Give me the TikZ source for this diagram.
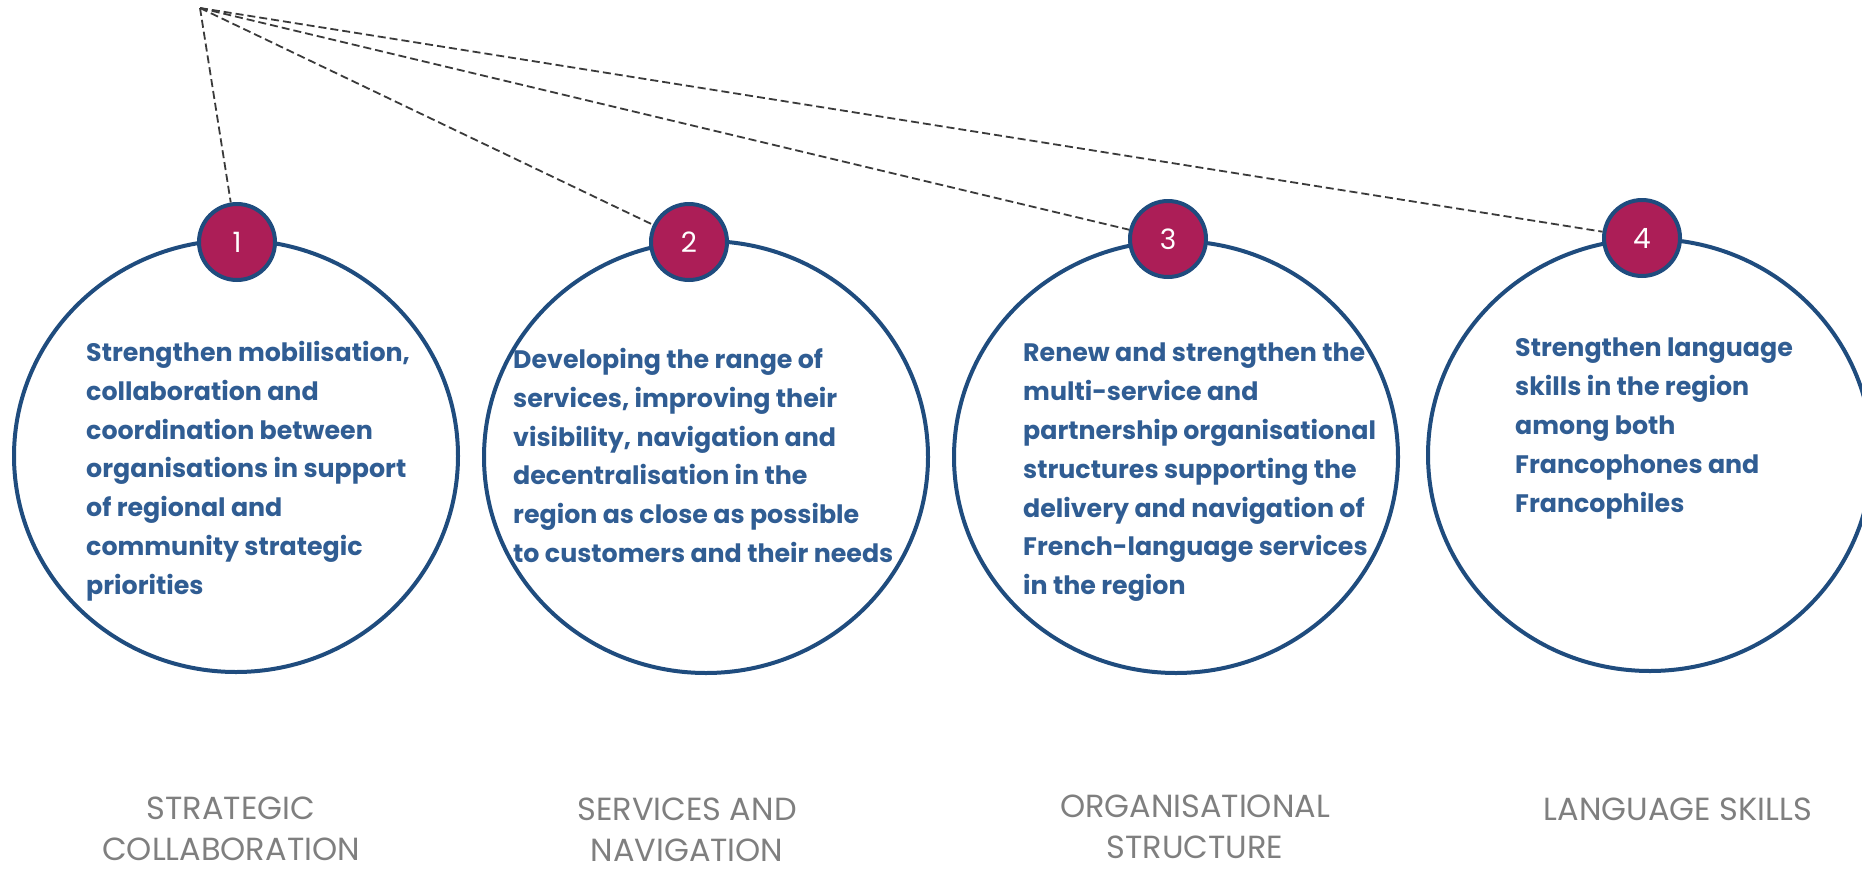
\documentclass[tikz,border=0pt]{standalone}
\usepackage{fontspec}
\setmainfont{Poppins}
\usetikzlibrary{shapes.geometric}
\definecolor{ringblue}{HTML}{1F4C7E}
\definecolor{textblue}{HTML}{305D93}
\definecolor{berry}{HTML}{AC1E57}
\definecolor{labelgray}{HTML}{7F7F7F}
\definecolor{dashgray}{HTML}{3A3A3A}
\tikzset{
  bigring/.style={draw=ringblue, line width=4pt, ellipse, minimum width=444pt, minimum height=432pt, inner sep=0pt},
  numdot/.style={draw=ringblue, fill=berry, line width=4pt, circle, minimum size=76pt, inner sep=0pt, text=white, font=\fontsize{28}{30}\selectfont},
  goaltext/.style={text=textblue, align=left, anchor=north west, inner sep=0pt, font=\bfseries\fontsize{25.3}{38.8}\selectfont},
  caption/.style={text=labelgray, align=center, inner sep=0pt, font=\fontsize{32}{41}\selectfont},
  link/.style={draw=dashgray, line width=1.8pt, dash pattern=on 8pt off 4pt}
}
\begin{document}
\begin{tikzpicture}[x=1pt,y=-1pt]
\useasboundingbox (0,0) rectangle (1862,873);
\clip (0,0) rectangle (1862,873);
\coordinate (apex) at (200,8);
\node[bigring] (c1) at (236,456) {};
\node[bigring] (c2) at (706,457) {};
\node[bigring] (c3) at (1176,457) {};
\node[bigring] (c4) at (1650,455) {};
\node[numdot] (n1) at (237,242) {1};
\node[numdot] (n2) at (689,242) {2};
\node[numdot] (n3) at (1168,239) {3};
\node[numdot] (n4) at (1642,238) {4};
\draw[link] (apex) -- (n1);
\draw[link] (apex) -- (n2);
\draw[link] (apex) -- (n3);
\draw[link] (apex) -- (n4);
\node[goaltext] (t1) at (86,341) {Strengthen mobilisation,\\collaboration and\\coordination between\\organisations in support\\of regional and\\community strategic\\priorities};
\node[goaltext] (t2) at (513,348) {Developing the range of\\services, improving their\\visibility, navigation and\\decentralisation in the\\region as close as possible\\to customers and their needs};
\node[goaltext] (t3) at (1023,343) {Renew and strengthen the\\multi-service and\\partnership organisational\\structures supporting the\\delivery and navigation of\\French-language services\\in the region};
\node[goaltext] (t4) at (1515,338) {Strengthen language\\skills in the region\\among both\\Francophones and\\Francophiles};
\node[caption] (l1) at (231,829) {STRATEGIC\\COLLABORATION};
\node[caption] (l2) at (687,830) {SERVICES AND\\NAVIGATION};
\node[caption] (l3) at (1195,827) {ORGANISATIONAL\\STRUCTURE};
\node[caption] (l4) at (1678,809) {LANGUAGE SKILLS};
\end{tikzpicture}
\end{document}
